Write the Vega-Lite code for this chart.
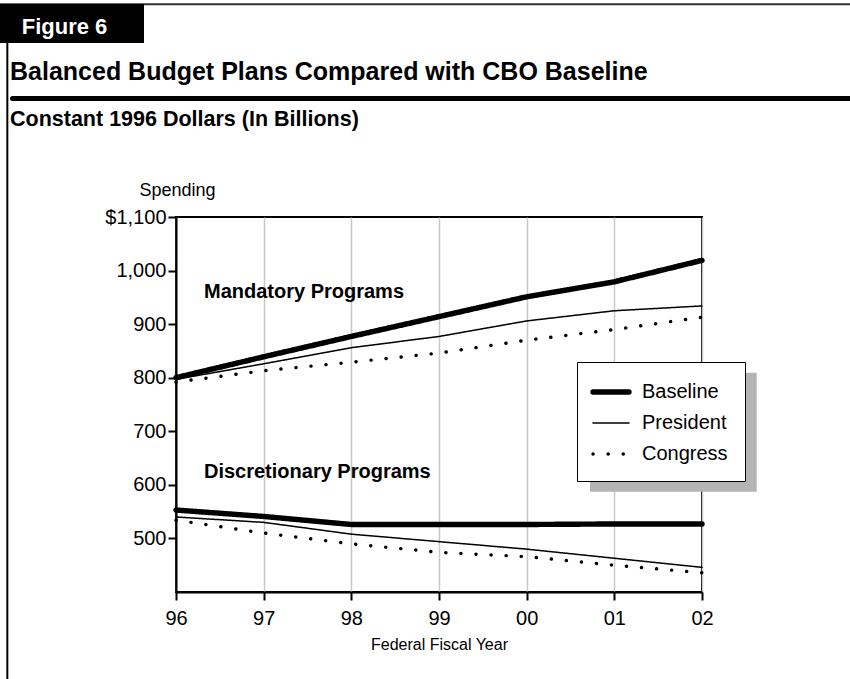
{
  "$schema": "https://vega.github.io/schema/vega-lite/v6.json",
  "width": 526,
  "height": 375,
  "autosize": {"type": "none"},
  "padding": {"left": 176, "top": 217, "right": 148, "bottom": 87},
  "background": "white",
  "title": {
    "text": "Balanced Budget Plans Compared with CBO Baseline",
    "subtitle": "Constant 1996 Dollars (In Billions)",
    "anchor": "start",
    "frame": "group",
    "orient": "top",
    "dx": -166,
    "offset": -127,
    "font": "Liberation Sans",
    "fontSize": 25,
    "fontWeight": "bold",
    "color": "black",
    "subtitleFont": "Liberation Sans",
    "subtitleFontSize": 21.5,
    "subtitleFontWeight": "bold",
    "subtitleColor": "black",
    "subtitlePadding": 24
  },
  "config": {
    "font": "Liberation Sans",
    "view": {"stroke": "black", "strokeWidth": 2},
    "axis": {
      "domainColor": "black",
      "domainWidth": 2,
      "tickColor": "black",
      "tickWidth": 2,
      "tickSize": 8,
      "labelColor": "black",
      "labelFont": "Liberation Sans",
      "labelFontSize": 20,
      "labelFlush": false,
      "labelOverlap": false,
      "titleColor": "black",
      "titleFont": "Liberation Sans",
      "titleFontWeight": "normal"
    },
    "legend": {
      "orient": "none",
      "legendX": 401,
      "legendY": 145,
      "padding": 17,
      "rowPadding": 9,
      "symbolType": "M-1.4,0H2.2",
      "symbolSize": 400,
      "symbolStrokeColor": "black",
      "labelFont": "Liberation Sans",
      "labelFontSize": 20,
      "labelColor": "black",
      "labelOffset": 22,
      "strokeColor": "black",
      "fillColor": "white"
    }
  },
  "datasets": {
    "spending": [
      {"program": "Mandatory", "plan": "Baseline", "year": 1996, "value": 800},
      {"program": "Mandatory", "plan": "Baseline", "year": 1997, "value": 839},
      {"program": "Mandatory", "plan": "Baseline", "year": 1998, "value": 877},
      {"program": "Mandatory", "plan": "Baseline", "year": 1999, "value": 914},
      {"program": "Mandatory", "plan": "Baseline", "year": 2000, "value": 951},
      {"program": "Mandatory", "plan": "Baseline", "year": 2001, "value": 979},
      {"program": "Mandatory", "plan": "Baseline", "year": 2002, "value": 1019},
      {"program": "Mandatory", "plan": "President", "year": 1996, "value": 797},
      {"program": "Mandatory", "plan": "President", "year": 1997, "value": 826},
      {"program": "Mandatory", "plan": "President", "year": 1998, "value": 856},
      {"program": "Mandatory", "plan": "President", "year": 1999, "value": 877},
      {"program": "Mandatory", "plan": "President", "year": 2000, "value": 906},
      {"program": "Mandatory", "plan": "President", "year": 2001, "value": 925},
      {"program": "Mandatory", "plan": "President", "year": 2002, "value": 934},
      {"program": "Mandatory", "plan": "Congress", "year": 1996, "value": 792},
      {"program": "Mandatory", "plan": "Congress", "year": 1997, "value": 813},
      {"program": "Mandatory", "plan": "Congress", "year": 1998, "value": 829},
      {"program": "Mandatory", "plan": "Congress", "year": 1999, "value": 846},
      {"program": "Mandatory", "plan": "Congress", "year": 2000, "value": 870},
      {"program": "Mandatory", "plan": "Congress", "year": 2001, "value": 890},
      {"program": "Mandatory", "plan": "Congress", "year": 2002, "value": 913},
      {"program": "Discretionary", "plan": "Baseline", "year": 1996, "value": 553},
      {"program": "Discretionary", "plan": "Baseline", "year": 1997, "value": 541},
      {"program": "Discretionary", "plan": "Baseline", "year": 1998, "value": 526},
      {"program": "Discretionary", "plan": "Baseline", "year": 1999, "value": 526},
      {"program": "Discretionary", "plan": "Baseline", "year": 2000, "value": 526},
      {"program": "Discretionary", "plan": "Baseline", "year": 2001, "value": 527},
      {"program": "Discretionary", "plan": "Baseline", "year": 2002, "value": 527},
      {"program": "Discretionary", "plan": "President", "year": 1996, "value": 540},
      {"program": "Discretionary", "plan": "President", "year": 1997, "value": 530},
      {"program": "Discretionary", "plan": "President", "year": 1998, "value": 508},
      {"program": "Discretionary", "plan": "President", "year": 1999, "value": 494},
      {"program": "Discretionary", "plan": "President", "year": 2000, "value": 480},
      {"program": "Discretionary", "plan": "President", "year": 2001, "value": 463},
      {"program": "Discretionary", "plan": "President", "year": 2002, "value": 446},
      {"program": "Discretionary", "plan": "Congress", "year": 1996, "value": 534},
      {"program": "Discretionary", "plan": "Congress", "year": 1997, "value": 510},
      {"program": "Discretionary", "plan": "Congress", "year": 1998, "value": 490},
      {"program": "Discretionary", "plan": "Congress", "year": 1999, "value": 474},
      {"program": "Discretionary", "plan": "Congress", "year": 2000, "value": 466},
      {"program": "Discretionary", "plan": "Congress", "year": 2001, "value": 450},
      {"program": "Discretionary", "plan": "Congress", "year": 2002, "value": 436}
    ]
  },
  "layer": [
    {
      "data": {"values": [{}]},
      "mark": {"type": "rule", "color": "#333333", "strokeWidth": 2},
      "encoding": {
        "x": {"datum": 1993.9},
        "x2": {"datum": 2004},
        "y": {"datum": 1497.0}
      }
    },
    {
      "data": {"values": [{}]},
      "mark": {"type": "rect", "color": "black"},
      "encoding": {
        "x": {"datum": 1993.9},
        "x2": {"datum": 1995.635},
        "y": {"datum": 1497.6},
        "y2": {"datum": 1424.8}
      }
    },
    {
      "data": {"values": [{}]},
      "mark": {"type": "text", "text": "Figure 6", "color": "white", "font": "Liberation Sans", "fontSize": 22, "fontWeight": "bold", "align": "left", "baseline": "alphabetic"},
      "encoding": {
        "x": {"datum": 1994.24},
        "y": {"datum": 1441.0}
      }
    },
    {
      "data": {"values": [{}]},
      "mark": {"type": "rule", "color": "black", "strokeWidth": 2},
      "encoding": {
        "x": {"datum": 1994.076},
        "y": {"datum": 1424.8},
        "y2": {"datum": 190}
      }
    },
    {
      "data": {"values": [{}]},
      "mark": {"type": "rule", "color": "black", "strokeWidth": 5, "strokeCap": "round"},
      "encoding": {
        "x": {"datum": 1994.135},
        "x2": {"datum": 2004},
        "y": {"datum": 1321.2}
      }
    },
    {
      "data": {"values": [{}]},
      "mark": {"type": "rect", "color": "#b4b4b4"},
      "encoding": {
        "x": {"datum": 2000.722},
        "x2": {"datum": 2002.624},
        "y": {"datum": 809.4},
        "y2": {"datum": 587.2}
      }
    },
    {
      "data": {"name": "spending"},
      "mark": {"type": "line", "color": "black", "strokeCap": "round", "strokeJoin": "round"},
      "encoding": {
        "x": {
          "field": "year",
          "type": "quantitative",
          "scale": {"domain": [1996, 2002], "nice": false, "zero": false},
          "axis": {
            "values": [1996, 1997, 1998, 1999, 2000, 2001, 2002],
            "labelExpr": "substring(toString(datum.value), 2)",
            "grid": true,
            "gridColor": "#c8c8c8",
            "gridWidth": 1.5,
            "labelPadding": 8,
            "title": "Federal Fiscal Year",
            "titleFontSize": 16,
            "titlePadding": 8
          }
        },
        "y": {
          "field": "value",
          "type": "quantitative",
          "scale": {"domain": [400, 1100], "nice": false, "zero": false},
          "axis": {
            "values": [500, 600, 700, 800, 900, 1000, 1100],
            "labelExpr": "datum.value == 1100 ? '$1,100' : format(datum.value, ',')",
            "grid": false,
            "labelPadding": 2,
            "title": "Spending",
            "titleAngle": 0,
            "titleX": 1,
            "titleY": -22,
            "titleAlign": "center",
            "titleBaseline": "alphabetic",
            "titleFontSize": 18
          }
        },
        "detail": {"field": "program"},
        "strokeWidth": {
          "field": "plan",
          "type": "ordinal",
          "sort": ["President", "Congress", "Baseline"],
          "scale": {"type": "point", "domain": ["President", "Congress", "Baseline"], "range": [1.5, 5.4], "padding": 0},
          "legend": {
            "title": null,
            "values": ["Baseline", "President", "Congress"],
            "encode": {"symbols": {"update": {"strokeCap": {"value": "round"}}}}
          }
        },
        "strokeDash": {
          "field": "plan",
          "type": "ordinal",
          "sort": ["President", "Congress", "Baseline"],
          "scale": {"domain": ["President", "Congress", "Baseline"], "range": [[1, 0], [0.1, 15], [1, 0]]},
          "legend": {
            "title": null,
            "values": ["Baseline", "President", "Congress"],
            "encode": {"symbols": {"update": {"strokeCap": {"value": "round"}}}}
          }
        }
      }
    },
    {
      "data": {"values": [{}]},
      "mark": {"type": "text", "text": "Mandatory Programs", "color": "black", "font": "Liberation Sans", "fontSize": 20, "fontWeight": "bold", "align": "left", "baseline": "middle"},
      "encoding": {
        "x": {"datum": 1996.319},
        "y": {"datum": 960.9}
      }
    },
    {
      "data": {"values": [{}]},
      "mark": {"type": "text", "text": "Discretionary Programs", "color": "black", "font": "Liberation Sans", "fontSize": 20, "fontWeight": "bold", "align": "left", "baseline": "middle"},
      "encoding": {
        "x": {"datum": 1996.319},
        "y": {"datum": 624}
      }
    }
  ]
}
